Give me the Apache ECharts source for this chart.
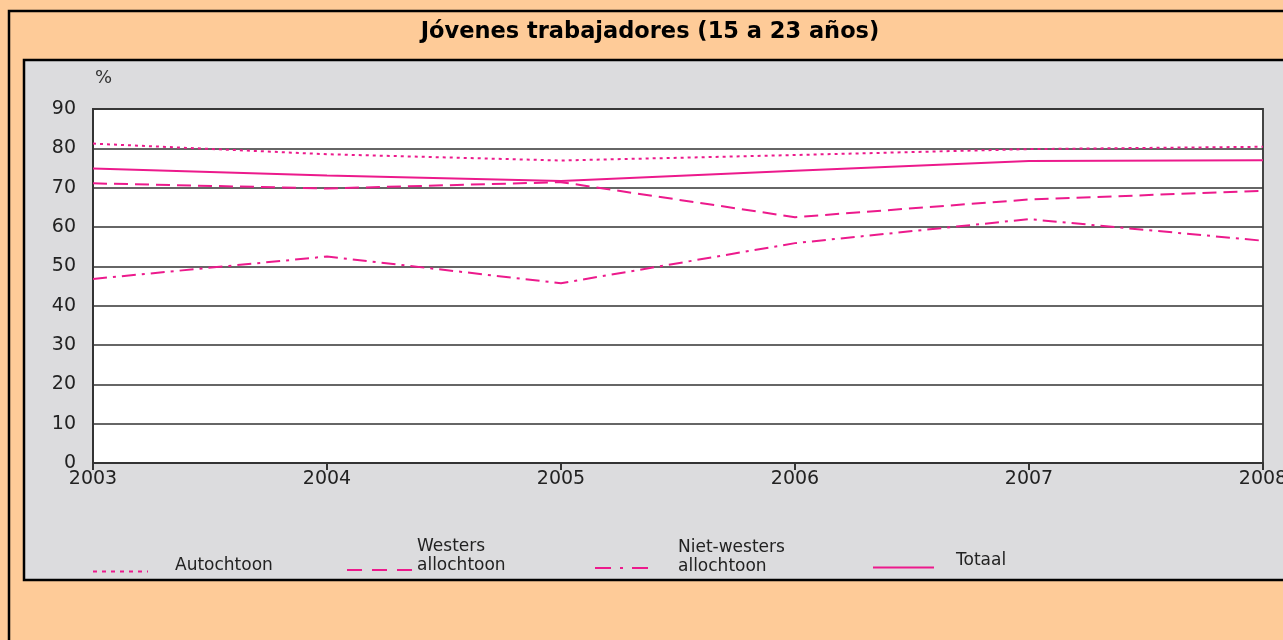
<!DOCTYPE html>
<html>
<head>
<meta charset="utf-8">
<script src="https://cdn.jsdelivr.net/npm/echarts@6/dist/echarts.min.js"></script>
<style>
  html, body { margin: 0; padding: 0; }
  #chart { width: 1283px; height: 640px; }
</style>
</head>
<body>
<div id="chart"></div>
<script>
// datos
const years = ['2003', '2004', '2005', '2006', '2007', '2008']
const autochtoon = [81.2, 78.5, 76.9, 78.3, 79.8, 80.4]
const westers = [71.1, 69.8, 71.4, 62.5, 67.0, 69.2]
const nietWesters = [46.8, 52.5, 45.7, 55.9, 62.0, 56.5]
const totaal = [74.9, 73.1, 71.7, 74.3, 76.8, 77.0]
const yTicks = { min: 0, max: 90, interval: 10 }

const pink = '#EC1A8C'
const font = 'DejaVu Sans, sans-serif'

const chart = echarts.init(document.getElementById('chart'))

// una leyenda por serie, el texto se sube con una linea vacia debajo
function legendFor (name, left, top, width, padLeft, lift, dash) {
  return {
    data: [name],
    left: left,
    top: top,
    padding: 0,
    itemWidth: width,
    itemHeight: 10,
    selectedMode: false,
    itemStyle: { opacity: 0, borderWidth: 0 },
    lineStyle: { type: dash },
    formatter: n => n + '\n{s|}',
    textStyle: {
      fontFamily: font,
      fontSize: 17,
      lineHeight: 19,
      color: '#222',
      padding: [0, 0, 0, padLeft],
      rich: { s: { lineHeight: lift * 2, fontSize: 1 } }
    }
  }
}

function lineSeries (name, data, type) {
  return {
    name: name,
    type: 'line',
    data: data,
    symbol: 'none',
    lineStyle: { color: pink, width: 2, type: type },
    itemStyle: { color: pink },
    z: 5
  }
}

const option = {
  backgroundColor: '#FECB98',
  animation: false,
  graphic: [
    {
      type: 'rect',
      z: -20,
      shape: { x: 9, y: 11, width: 1300, height: 700 },
      style: { fill: '#FECB98', stroke: '#000', lineWidth: 2.5 }
    },
    {
      type: 'rect',
      z: -10,
      shape: { x: 24, y: 60, width: 1300, height: 520 },
      style: { fill: '#DCDCDE', stroke: '#000', lineWidth: 2.5 }
    }
  ],
  title: {
    text: 'Jóvenes trabajadores (15 a 23 años)',
    left: 650,
    textAlign: 'center',
    top: 21,
    padding: 0,
    textStyle: { fontFamily: font, fontSize: 22.5, fontWeight: 'bold', color: '#000' }
  },
  legend: [
    legendFor('Autochtoon', 92, 556, 55, 22, 6, [4, 5]),
    legendFor('Westers\nallochtoon', 346, 537, 65, 0, 14, [15, 10]),
    legendFor('Niet-westers\nallochtoon', 594, 538, 55, 23, 11, [16, 9, 3, 9]),
    legendFor('Totaal', 872, 551, 61, 17, 7, 'solid')
  ],
  grid: {
    left: 93,
    right: 20,
    top: 109,
    bottom: 177,
    outerBoundsMode: 'none',
    show: true,
    backgroundColor: '#fff',
    borderColor: '#444',
    borderWidth: 2
  },
  xAxis: {
    type: 'category',
    data: years,
    boundaryGap: false,
    axisLine: { lineStyle: { color: '#333', width: 2 } },
    axisTick: { show: true, length: 7, lineStyle: { color: '#333', width: 2 } },
    axisLabel: { fontFamily: font, fontSize: 19, color: '#222', margin: 7 },
    splitLine: { show: false }
  },
  yAxis: {
    type: 'value',
    min: yTicks.min,
    max: yTicks.max,
    interval: yTicks.interval,
    name: '%',
    nameLocation: 'end',
    nameGap: 22,
    nameTextStyle: { fontFamily: font, fontSize: 18, color: '#333', align: 'left', padding: [0, 0, 0, 2] },
    axisLine: { show: true, lineStyle: { color: '#333', width: 2 } },
    axisTick: { show: false },
    axisLabel: { fontFamily: font, fontSize: 19, color: '#222', margin: 17 },
    splitLine: { lineStyle: { color: '#333', width: 1.5 } }
  },
  series: [
    lineSeries('Autochtoon', autochtoon, [3, 4]),
    lineSeries('Westers\nallochtoon', westers, [14, 7]),
    lineSeries('Niet-westers\nallochtoon', nietWesters, [14, 6, 3, 6]),
    lineSeries('Totaal', totaal, 'solid')
  ]
}

chart.setOption(option)
</script>
</body>
</html>
